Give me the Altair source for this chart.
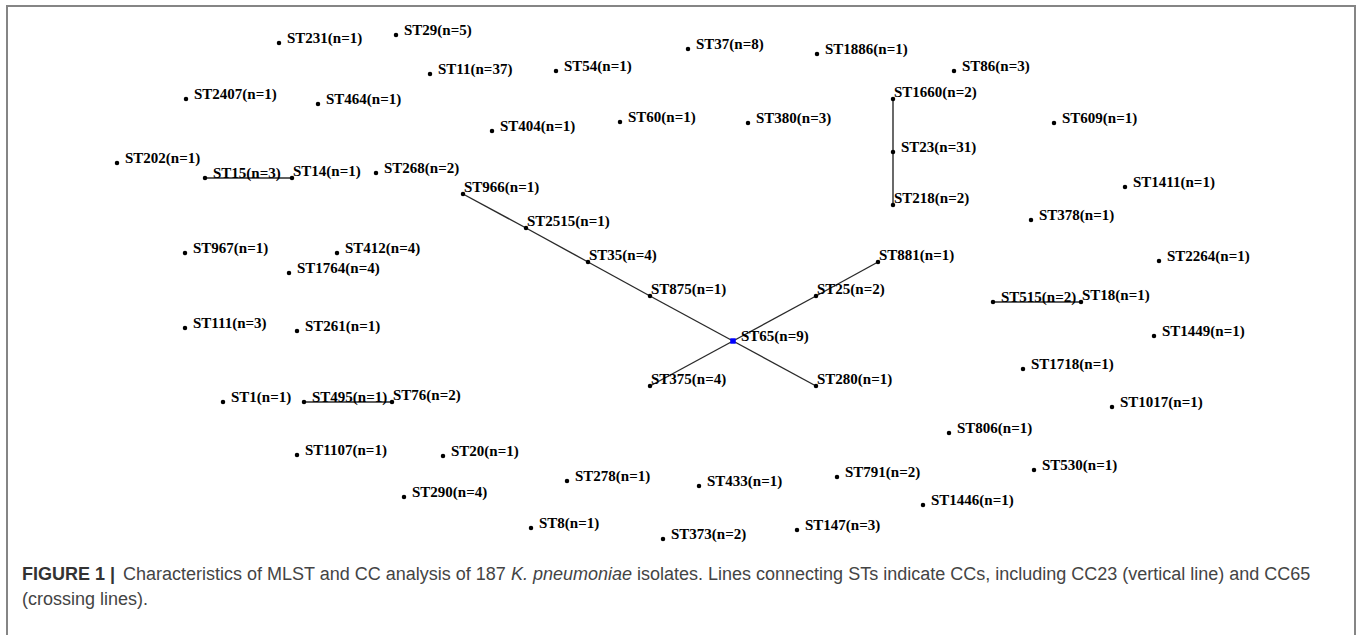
import altair as alt
import pandas as pd

st_names = ["ST231", "ST29", "ST11", "ST2407", "ST464", "ST202", "ST15", "ST14", "ST268",
            "ST37", "ST1886", "ST54", "ST404", "ST60", "ST380", "ST966",
            "ST1660", "ST23", "ST218", "ST86", "ST609", "ST1411", "ST378",
            "ST967", "ST412", "ST1764", "ST111", "ST261", "ST1", "ST495", "ST76",
            "ST2515", "ST35", "ST875", "ST65", "ST375", "ST280", "ST25", "ST881",
            "ST2264", "ST515", "ST18", "ST1449", "ST1718", "ST1017",
            "ST1107", "ST290", "ST20", "ST278", "ST433", "ST791", "ST8", "ST373", "ST147",
            "ST806", "ST530", "ST1446"]
isolates = [1, 5, 37, 1, 1, 1, 3, 1, 2,
            8, 1, 1, 1, 1, 3, 1,
            2, 31, 2, 3, 1, 1, 1,
            1, 4, 4, 3, 1, 1, 1, 2,
            1, 4, 1, 9, 4, 1, 2, 1,
            1, 2, 1, 1, 1, 1,
            1, 4, 1, 1, 1, 2, 1, 2, 3,
            1, 1, 1]
layout_x = [279, 396, 430, 186, 318, 117, 205, 292, 376,
            688, 817, 556, 492, 620, 748, 463,
            893, 893, 893, 954, 1054, 1125, 1031,
            185, 337, 289, 185, 297, 223, 304, 392,
            526, 588, 650, 733, 650, 816, 816, 878,
            1159, 993, 1081, 1154, 1023, 1112,
            297, 404, 443, 567, 699, 837, 531, 663, 797,
            949, 1034, 923]
layout_y = [43, 35, 74, 99, 104, 163, 178, 178, 173,
            49, 54, 71, 131, 122, 123, 194,
            99, 152, 205, 71, 123, 187, 220,
            253, 253, 273, 328, 331, 402, 402, 402,
            228, 262, 296, 341, 386, 386, 296, 262,
            261, 302, 302, 336, 369, 407,
            455, 497, 456, 481, 486, 477, 528, 539, 530,
            433, 470, 505]

# clonal-complex links (source, target)
link_src = ["ST15", "ST495", "ST515", "ST1660", "ST23",
            "ST966", "ST2515", "ST35", "ST875", "ST65",
            "ST375", "ST65", "ST25"]
link_dst = ["ST14", "ST76", "ST18", "ST23", "ST218",
            "ST2515", "ST35", "ST875", "ST65", "ST280",
            "ST65", "ST25", "ST881"]

founders = ["ST65"]
# nodes whose labels sit right on the dot (drawn on CC lines)
tight_labels = ["ST14", "ST76", "ST18", "ST1660", "ST218", "ST966", "ST2515",
                "ST35", "ST875", "ST375", "ST280", "ST25", "ST881"]

W, H = 1357, 635

nodes = pd.DataFrame({"st": st_names, "n": isolates, "x": layout_x, "y": layout_y})
nodes["label"] = nodes["st"] + "(n=" + nodes["n"].astype(str) + ")"
nodes["founder"] = nodes["st"].isin(founders)
nodes["tight"] = nodes["st"].isin(tight_labels)

pos = nodes.set_index("st")
edges = pd.DataFrame({
    "x": [pos.loc[s, "x"] for s in link_src],
    "y": [pos.loc[s, "y"] for s in link_src],
    "x2": [pos.loc[t, "x"] for t in link_dst],
    "y2": [pos.loc[t, "y"] for t in link_dst],
})

xs = alt.Scale(domain=[0, W], nice=False, zero=False)
ys = alt.Scale(domain=[0, H], nice=False, zero=False, reverse=True)

lines = alt.Chart(edges).mark_rule(color="#2a2a2a", strokeWidth=1.4).encode(
    x=alt.X("x:Q", scale=xs, axis=None),
    y=alt.Y("y:Q", scale=ys, axis=None),
    x2="x2:Q", y2="y2:Q",
)

dots = alt.Chart(nodes).transform_filter("!datum.founder").mark_point(
    filled=True, size=20, opacity=1, shape="circle", color="#000000").encode(
    x=alt.X("x:Q", scale=xs, axis=None),
    y=alt.Y("y:Q", scale=ys, axis=None),
)
founder_dots = alt.Chart(nodes).transform_filter("datum.founder").mark_point(
    filled=True, size=30, opacity=1, shape="square", color="#0000ff").encode(
    x=alt.X("x:Q", scale=xs, axis=None),
    y=alt.Y("y:Q", scale=ys, axis=None),
)

label_font = dict(font="Liberation Serif", fontWeight="bold", fontSize=15,
                  color="#000000", align="left", baseline="alphabetic")

labels_loose = alt.Chart(nodes).transform_filter("!datum.tight").mark_text(
    dx=8, dy=0, **label_font).encode(
    x=alt.X("x:Q", scale=xs, axis=None),
    y=alt.Y("y:Q", scale=ys, axis=None),
    text="label:N",
)
labels_tight = alt.Chart(nodes).transform_filter("datum.tight").mark_text(
    dx=1, dy=-2, **label_font).encode(
    x=alt.X("x:Q", scale=xs, axis=None),
    y=alt.Y("y:Q", scale=ys, axis=None),
    text="label:N",
)

one = alt.Data(values=[{"k": 1}])

border = alt.Chart(one).mark_rect(fillOpacity=0, stroke="#858585", strokeWidth=2, clip=True).encode(
    x=alt.value(7), x2=alt.value(1355), y=alt.value(6), y2=alt.value(700)
)

cap_font = dict(font="Liberation Sans", fontSize=18, align="left", baseline="alphabetic")

def cap(text, x, y, **kw):
    style = dict(cap_font)
    style.update(kw)
    return alt.Chart(one).mark_text(text=text, **style).encode(
        x=alt.value(x), y=alt.value(y))

caption = [
    cap("FIGURE 1 |", 22, 580, fontWeight="bold", color="#333333"),
    cap("Characteristics of MLST and CC analysis of 187", 123, 580, color="#444444"),
    cap("K. pneumoniae", 511, 580, fontStyle="italic", color="#444444"),
    cap("isolates. Lines connecting STs indicate CCs, including CC23 (vertical line) and CC65",
        637, 580, color="#444444"),
    cap("(crossing lines).", 22, 605, color="#444444"),
]

chart = alt.layer(border, lines, dots, founder_dots, labels_loose, labels_tight, *caption).properties(
    width=W, height=H, padding=0,
    autosize=alt.AutoSizeParams(type="none"),
    background="white",
).configure_view(stroke=None)

chart.save("out.html", embed_options={"renderer": "svg", "actions": False})
